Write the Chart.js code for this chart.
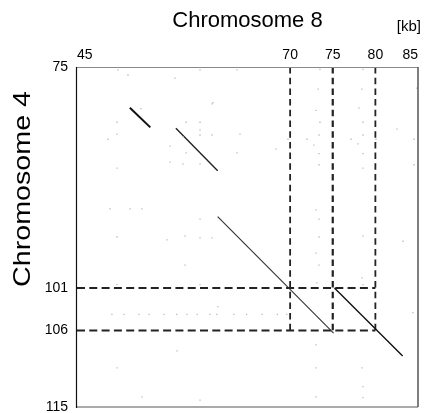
<!DOCTYPE html>
<html><head><meta charset="utf-8">
<script src="https://cdn.jsdelivr.net/npm/chart.js@4/dist/chart.umd.min.js"></script>
<style>html,body{margin:0;padding:0;background:#fff}#c{display:block}</style>
</head><body>
<canvas id="c" width="424" height="413"></canvas>
<script>
const xTitle = 'Chromosome 8';
const yTitle = 'Chromosome 4';
const unitLabel = '[kb]';
const xTicks = [45, 70, 75, 80, 85];
const yTicks = [75, 101, 106, 115];
const xRange = [45, 85];
const yRange = [75, 115];
// diagonal match segments: [start, end] in kb
const diagX = [[51.2, 53.6], [56.6, 61.5], [61.5, 75.1], [75.2, 83.2]];
const diagY = [[79.8, 82.1], [82.2, 87.2], [92.6, 106.3], [101.0, 109.0]];
// dashed guide lines
const vLineX = [70, 75, 80];
const vLineSpan = [75, 106];
const hLineY = [101, 106];
const hLineSpan = [45, 80];
// faint background dots
const noiseX = [73.5,78.55,73.27,78.43,73.03,78.08,73.5,78.55,73.39,78.55,69.75,71.98,77.14,80.07,82.54,84.53,68.34,72.8,73.39,77.96,78.55,73.39,78.55,84.53,52.5,49.69,49.69,48.64,57.79,59.43,59.43,59.43,60.84,64.12,60.84,57.43,55.91,57.79,63.77,55.91,57.43,59.43,49.69,48.87,51.22,52.62,59.43,49.69,55.56,57.67,59.43,60.84,83.24,57.67,73.03,73.39,73.39,78.55,73.03,73.39,78.43,49.69,59.43,73.15,78.55,61.54,84.41,56.73,73.03,49.69,73.03,78.43,78.55,52.62,59.43,73.03,78.55,49.81,59.43,63.77,56.5,84.88,60.95,50.98,49.1,50.5,52.27,53.45,55.2,56.7,57.9,59.1,60.6,61.4,63.4,64.9,66.7,68.5,69.6];
const noiseY = [75.27,75.27,77.6,77.6,80.1,79.8,81.5,81.5,83.0,83.0,83.5,83.5,83.5,83.5,82.3,83.5,84.65,84.2,85.2,84.05,85.2,86.5,86.9,86.5,79.9,81.5,82.9,83.5,81.5,81.5,82.4,83.0,83.0,82.9,79.35,83.2,84.3,85.1,85.1,86.2,86.4,86.4,86.9,91.7,91.7,91.7,92.9,95.0,95.35,94.9,95.1,95.1,95.5,98.3,91.8,92.9,95.0,94.9,96.9,98.3,99.8,100.6,100.6,100.4,100.6,103.2,103.9,108.4,107.7,110.4,110.4,110.4,112.6,113.8,114.2,113.8,113.9,75.35,75.35,75.35,76.3,77.5,79.2,75.94,104.1,104.1,104.1,104.1,104.1,104.1,104.1,104.1,104.1,104.1,104.1,104.1,104.1,104.1,104.1];

Chart.defaults.font.family = '"Liberation Sans", Arial, sans-serif';
Chart.defaults.color = '#000';

const datasets = [];
datasets.push({
  label: 'dots',
  data: noiseX.map((x, i) => ({x, y: noiseY[i]})),
  showLine: false, pointRadius: 0.9, pointBorderWidth: 0,
  pointBackgroundColor: '#b8b8b8', pointStyle: 'rect'
});
const diagColors = ['#111', '#222', '#333', '#111'];
const diagWidths = [2, 1.4, 1.1, 1.4];
diagX.forEach((xs, i) => {
  datasets.push({
    label: 'match' + i,
    data: [{x: xs[0], y: diagY[i][0]}, {x: xs[1], y: diagY[i][1]}],
    showLine: true, pointRadius: 0, borderColor: diagColors[i], borderWidth: diagWidths[i]
  });
});
vLineX.forEach((x, i) => {
  datasets.push({
    label: 'v' + x,
    data: [{x, y: vLineSpan[0]}, {x, y: vLineSpan[1]}],
    showLine: true, pointRadius: 0, borderColor: '#222', borderWidth: i === 1 ? 2.2 : 1.8,
    borderDash: [6.5, 4.2]
  });
});
hLineY.forEach((y) => {
  datasets.push({
    label: 'h' + y,
    data: [{x: hLineSpan[0], y}, {x: hLineSpan[1], y}],
    showLine: true, pointRadius: 0, borderColor: '#222', borderWidth: 2,
    borderDash: [8, 4.3]
  });
});

const extras = {
  id: 'extras',
  afterDatasetsDraw(chart) {
    const {ctx, chartArea: a} = chart;
    ctx.save();
    ctx.lineWidth = 1;
    ctx.strokeStyle = '#8a8a8a';
    ctx.beginPath(); ctx.moveTo(a.left, a.top + 0.5); ctx.lineTo(a.right, a.top + 0.5); ctx.stroke();
    ctx.strokeStyle = '#aaaaaa'; ctx.lineWidth = 2;
    ctx.beginPath(); ctx.moveTo(a.left, a.bottom); ctx.lineTo(a.right, a.bottom); ctx.stroke();
    ctx.strokeStyle = '#555'; ctx.lineWidth = 1.5;
    ctx.beginPath(); ctx.moveTo(a.right, a.top); ctx.lineTo(a.right, a.bottom); ctx.stroke();
    ctx.strokeStyle = '#111'; ctx.lineWidth = 1.2;
    ctx.beginPath(); ctx.moveTo(a.left - 0.5, a.top); ctx.lineTo(a.left - 0.5, a.bottom + 1); ctx.stroke();
    ctx.restore();
  },
  afterDraw(chart) {
    const {ctx} = chart;
    ctx.save();
    ctx.fillStyle = '#000';
    ctx.font = '15px "Liberation Sans", Arial, sans-serif';
    ctx.textAlign = 'right'; ctx.textBaseline = 'middle';
    ctx.fillText(unitLabel, 421, 27);
    ctx.translate(23, 189);
    ctx.rotate(-Math.PI / 2);
    ctx.font = '24px "Liberation Sans", Arial, sans-serif';
    const w = ctx.measureText(yTitle).width;
    ctx.scale(196 / w, 1);
    ctx.textAlign = 'center';
    ctx.fillText(yTitle, 0, 0);
    ctx.restore();
  }
};

new Chart(document.getElementById('c'), {
  type: 'scatter',
  data: {datasets},
  options: {
    responsive: false, animation: false, devicePixelRatio: 1,
    layout: {padding: {left: 0, right: 6, top: 0, bottom: 6}},
    plugins: {legend: {display: false}, tooltip: {enabled: false}},
    scales: {
      x: {
        type: 'linear', position: 'top', min: xRange[0], max: xRange[1],
        afterBuildTicks: s => { s.ticks = xTicks.map(v => ({value: v})); },
        afterFit: s => { s.height = 67; s.paddingLeft = 0; s.paddingRight = 0; },
        ticks: {padding: 3, align: 'inner', font: {size: 14}, color: '#000', maxRotation: 0, autoSkip: false},
        grid: {display: false, drawTicks: false},
        border: {display: false},
        title: {display: true, text: xTitle, font: {size: 22}, color: '#000', padding: {top: 8, bottom: 0}}
      },
      y: {
        type: 'linear', reverse: true, min: yRange[0], max: yRange[1],
        afterBuildTicks: s => { s.ticks = yTicks.map(v => ({value: v})); },
        afterFit: s => { s.width = 77; s.paddingTop = 0; s.paddingBottom = 0; },
        ticks: {padding: 9, font: {size: 14}, color: '#000', autoSkip: false},
        grid: {display: false, drawTicks: false},
        border: {display: false}
      }
    }
  },
  plugins: [extras]
});
</script>
</body></html>
